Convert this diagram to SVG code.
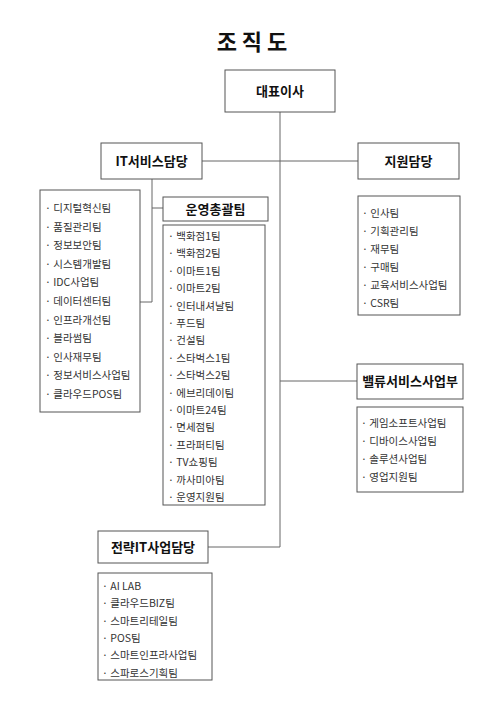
<svg xmlns="http://www.w3.org/2000/svg" width="504" height="702" viewBox="0 0 504 702">
<style>
.box{fill:#fff;stroke:#555;stroke-width:1}
.ln{fill:none;stroke:#666;stroke-width:1}
.t{font-family:"Noto Sans CJK KR","Noto Sans",sans-serif;font-size:13px;font-weight:bold;fill:#111;text-anchor:middle}
.it{font-family:"Noto Sans CJK KR","Noto Sans",sans-serif;font-size:10.5px;fill:#333}
.title{font-family:"Noto Sans CJK KR","Noto Sans",sans-serif;font-size:22px;font-weight:bold;fill:#111;text-anchor:middle}
</style>
<rect width="504" height="702" fill="#fff"/>
<text class="title" x="252" y="50">조 직 도</text>
<g id="connectors">
<path class="ln" d="M280,112 V547 M280,381 H357 M202,161 H358 M208,547 H280 M152,179 V302 M152,208 H163 M152,302 H140"/>
</g>
<g id="ceo"><rect class="box" x="225" y="70" width="110" height="42"/><text class="t" x="280" y="96">대표이사</text></g>
<g id="it"><rect class="box" x="101" y="143" width="101" height="36"/><text class="t" x="151.5" y="165.5">IT서비스담당</text></g>
<g id="support"><rect class="box" x="358" y="143" width="101" height="36"/><text class="t" x="408.5" y="165.5">지원담당</text></g>
<g id="ops"><rect class="box" x="163" y="197" width="105" height="24"/><text class="t" x="215.5" y="213.5">운영총괄팀</text></g>
<g id="value"><rect class="box" x="357" y="364" width="106" height="35"/><text class="t" x="410" y="386">밸류서비스사업부</text></g>
<g id="strategy"><rect class="box" x="98" y="531" width="110" height="32"/><text class="t" x="153" y="551.5">전략IT사업담당</text></g>
<g id="it-teams"><rect class="box" x="40" y="190" width="100" height="222"/>
<text class="it" x="45" y="212">· 디지털혁신팀</text>
<text class="it" x="45" y="230.6">· 품질관리팀</text>
<text class="it" x="45" y="249.2">· 정보보안팀</text>
<text class="it" x="45" y="267.8">· 시스템개발팀</text>
<text class="it" x="45" y="286.4">· IDC사업팀</text>
<text class="it" x="45" y="305">· 데이터센터팀</text>
<text class="it" x="45" y="323.6">· 인프라개선팀</text>
<text class="it" x="45" y="342.2">· 블라썸팀</text>
<text class="it" x="45" y="360.8">· 인사재무팀</text>
<text class="it" x="45" y="379.4">· 정보서비스사업팀</text>
<text class="it" x="45" y="398">· 클라우드POS팀</text>
</g>
<g id="ops-teams"><rect class="box" x="163" y="225" width="102" height="280"/>
<text class="it" x="168" y="240">· 백화점1팀</text>
<text class="it" x="168" y="257.4">· 백화점2팀</text>
<text class="it" x="168" y="274.8">· 이마트1팀</text>
<text class="it" x="168" y="292.2">· 이마트2팀</text>
<text class="it" x="168" y="309.6">· 인터내셔날팀</text>
<text class="it" x="168" y="327">· 푸드팀</text>
<text class="it" x="168" y="344.4">· 건설팀</text>
<text class="it" x="168" y="361.8">· 스타벅스1팀</text>
<text class="it" x="168" y="379.2">· 스타벅스2팀</text>
<text class="it" x="168" y="396.6">· 에브리데이팀</text>
<text class="it" x="168" y="414">· 이마트24팀</text>
<text class="it" x="168" y="431.4">· 면세점팀</text>
<text class="it" x="168" y="448.8">· 프라퍼티팀</text>
<text class="it" x="168" y="466.2">· TV쇼핑팀</text>
<text class="it" x="168" y="483.6">· 까사미아팀</text>
<text class="it" x="168" y="501">· 운영지원팀</text>
</g>
<g id="support-teams"><rect class="box" x="358" y="196" width="102" height="119"/>
<text class="it" x="362" y="217">· 인사팀</text>
<text class="it" x="362" y="235">· 기획관리팀</text>
<text class="it" x="362" y="253">· 재무팀</text>
<text class="it" x="362" y="271">· 구매팀</text>
<text class="it" x="362" y="289">· 교육서비스사업팀</text>
<text class="it" x="362" y="307">· CSR팀</text>
</g>
<g id="value-teams"><rect class="box" x="357" y="407" width="106" height="85"/>
<text class="it" x="361" y="427">· 게임소프트사업팀</text>
<text class="it" x="361" y="445">· 디바이스사업팀</text>
<text class="it" x="361" y="463">· 솔루션사업팀</text>
<text class="it" x="361" y="481">· 영업지원팀</text>
</g>
<g id="strategy-teams"><rect class="box" x="98" y="573" width="114" height="107"/>
<text class="it" x="102" y="590">· AI LAB</text>
<text class="it" x="102" y="607.3">· 클라우드BIZ팀</text>
<text class="it" x="102" y="624.6">· 스마트리테일팀</text>
<text class="it" x="102" y="641.9">· POS팀</text>
<text class="it" x="102" y="659.2">· 스마트인프라사업팀</text>
<text class="it" x="102" y="676.5">· 스파로스기획팀</text>
</g>
</svg>
